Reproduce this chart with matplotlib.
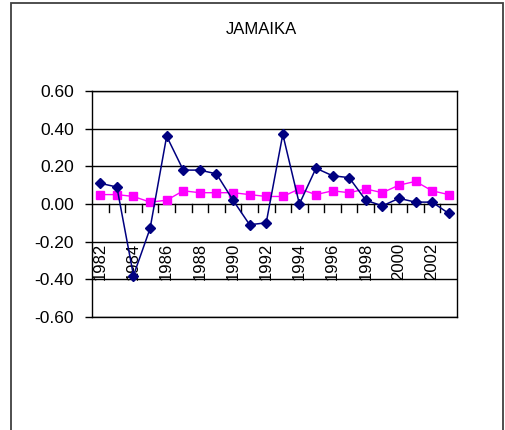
import matplotlib
matplotlib.use("Agg")
import matplotlib.pyplot as plt
from matplotlib.patches import Rectangle

plt.rcParams["font.family"] = ["Liberation Sans", "DejaVu Sans"]

# yearly series for Jamaica, 1982-2003
years = list(range(1982, 2004))
series_navy = [0.11, 0.09, -0.38, -0.13, 0.36, 0.18, 0.18, 0.16, 0.02, -0.11,
               -0.10, 0.37, 0.00, 0.19, 0.15, 0.14, 0.02, -0.01, 0.03, 0.01,
               0.01, -0.05]
series_pink = [0.05, 0.05, 0.04, 0.01, 0.02, 0.07, 0.06, 0.06, 0.06, 0.05,
               0.04, 0.04, 0.08, 0.05, 0.07, 0.06, 0.08, 0.06, 0.10, 0.12,
               0.07, 0.05]
y_ticks = [-0.6, -0.4, -0.2, 0.0, 0.2, 0.4, 0.6]
title = "JAMAIKA"

W, H = 506, 430
fig = plt.figure(figsize=(W / 100, H / 100), dpi=100)

# chart frame, runs off the bottom edge
fig.patches.append(Rectangle((11.5 / W, -0.1), (503 - 11.5) / W, 1.1 - 3 / H,
                             transform=fig.transFigure, fill=False,
                             edgecolor="#404040", linewidth=1.3))

ax = fig.add_axes([92 / W, 1 - 317 / H, 365 / W, 226 / H])
x = list(range(len(years)))

ax.plot(x, series_navy, color="#000080", linewidth=1.1, marker="D",
        markersize=5, zorder=4)
ax.plot(x, series_pink, color="#FF00FF", linewidth=1.0, marker="s",
        markersize=6, zorder=3)

ax.set_xlim(-0.5, len(years) - 0.5)
ax.set_ylim(-0.6, 0.6)
ax.set_yticks(y_ticks)
ax.set_yticklabels([f"{v:.2f}" for v in y_ticks], fontsize=12.5)
ax.tick_params(axis="y", direction="out", length=5, width=1, pad=8)
ax.set_xticks([])
for yv in y_ticks:
    ax.axhline(yv, color="black", linewidth=1, zorder=1)
for s in ax.spines.values():
    s.set_color("black")
    s.set_linewidth(1)

# category axis crosses at zero: tick marks between years
for k in range(len(years) - 1):
    ax.plot([k + 0.5, k + 0.5], [0, -0.045], color="black", linewidth=1,
            zorder=2)
for k, yr in enumerate(years):
    if k % 2 == 0:
        ax.text(k, -0.205, str(yr), rotation=90, ha="center", va="top",
                fontsize=12, zorder=2)

fig.text(261 / W, 1 - 30 / H, title, ha="center", va="center", fontsize=12)

fig.savefig("out.png", dpi=100)
